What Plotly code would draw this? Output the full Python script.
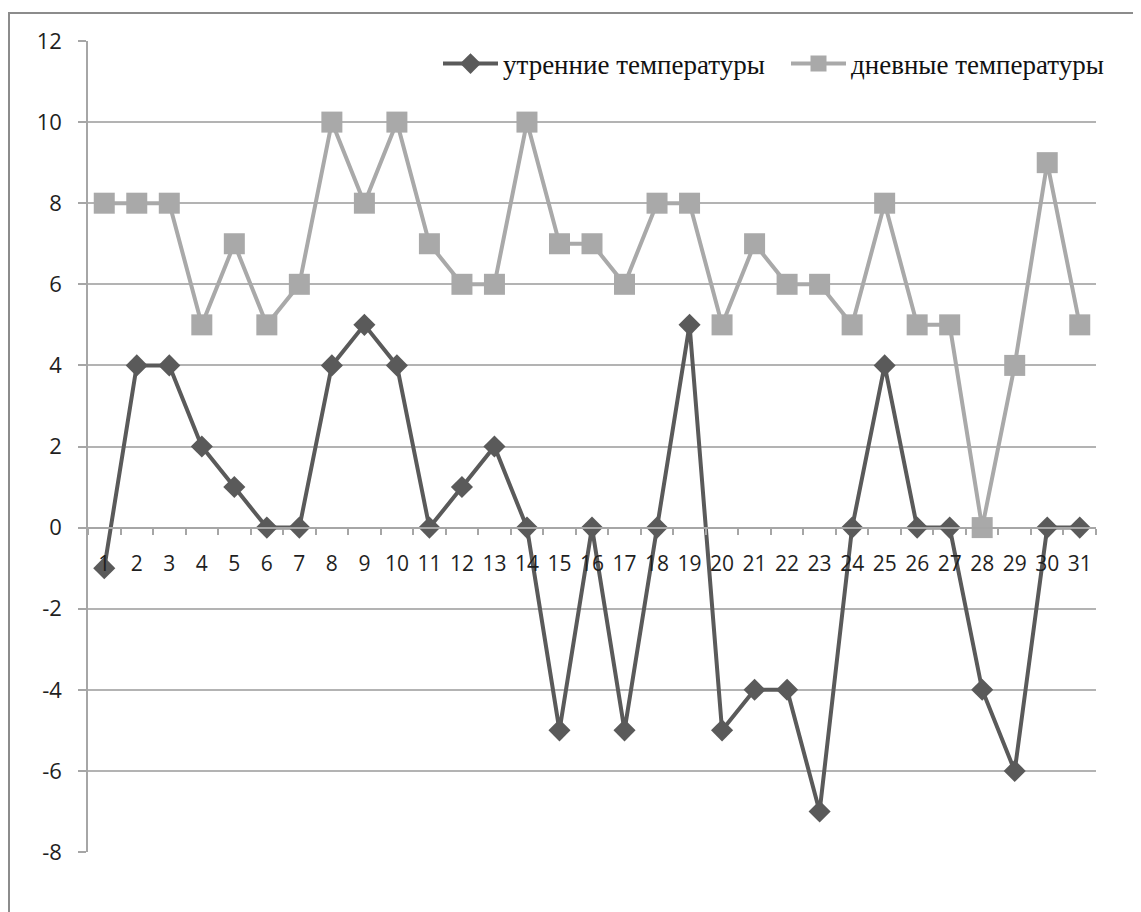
import plotly.graph_objects as go

days = [str(i) for i in range(1, 32)]
morning = [-1, 4, 4, 2, 1, 0, 0, 4, 5, 4, 0, 1, 2, 0, -5, 0, -5, 0, 5, -5, -4, -4, -7, 0, 4, 0, 0, -4, -6, 0, 0]
daytime = [8, 8, 8, 5, 7, 5, 6, 10, 8, 10, 7, 6, 6, 10, 7, 7, 6, 8, 8, 5, 7, 6, 6, 5, 8, 5, 5, 0, 4, 9, 5]
name_morning = "утренние температуры"
name_day = "дневные температуры"
y_ticks = list(range(-8, 13, 2))

W, H = 1141, 912
ml, mr, mt, mb = 80, 53, 33, 68
pw = W - ml - mr
ph = H - mt - mb
ymin, ymax = -8, 12

fig = go.Figure()
fig.add_trace(go.Scatter(
    x=days, y=morning, name=name_morning, mode="lines+markers",
    line=dict(color="#5a5a5a", width=4),
    marker=dict(symbol="diamond", size=17, color="#5a5a5a"),
))
fig.add_trace(go.Scatter(
    x=days, y=daytime, name=name_day, mode="lines+markers",
    line=dict(color="#a9a9a9", width=4),
    marker=dict(symbol="square", size=21, color="#a9a9a9"),
))

zero_pos = (0 - ymin) / (ymax - ymin)

fig.update_layout(
    width=W, height=H,
    margin=dict(l=ml, r=mr, t=mt, b=mb, autoexpand=False),
    paper_bgcolor="white", plot_bgcolor="white",
    showlegend=True,
    legend=dict(
        orientation="h", x=(430 - ml) / pw, xanchor="left",
        y=(H - mb - 56) / ph, yanchor="middle",
        font=dict(family="Liberation Serif", size=27, color="#111111"),
        bgcolor="rgba(0,0,0,0)",
        traceorder="normal", itemwidth=55, entrywidth=278, entrywidthmode="pixels",
    ),
    xaxis=dict(
        type="category", categoryorder="array", categoryarray=days,
        anchor="free", position=zero_pos,
        showline=True, linecolor="#a6a6a6", linewidth=2,
        ticks="outside", tickson="boundaries", ticklen=6, tickcolor="#a6a6a6", tickwidth=1.5,
        showgrid=False, zeroline=False, tickangle=0,
        tickfont=dict(family="Open Sans", size=21, color="#1f1f1f"),
        ticklabelstandoff=17,
        range=[-0.5, 30.5],
    ),
    yaxis=dict(
        range=[ymin, ymax], tickvals=y_ticks, ticktext=[str(v) for v in y_ticks],
        showline=True, linecolor="#a6a6a6", linewidth=1.5,
        ticks="outside", ticklen=8, tickcolor="#a6a6a6", tickwidth=1.5,
        showgrid=True, gridcolor="#b3b3b3", gridwidth=1.5,
        zeroline=False,
        tickfont=dict(family="Open Sans", size=22, color="#1f1f1f"),
        ticklabelstandoff=12,
    ),
    shapes=[dict(
        type="rect", xref="paper", yref="paper",
        x0=(1 - ml) / pw, x1=(W + 20 - ml) / pw,
        y0=(H - mb - (H + 20)) / ph, y1=(H - mb - 5) / ph,
        line=dict(color="#8c8c8c", width=2), fillcolor="rgba(0,0,0,0)",
        layer="below",
    )],
)

fig.write_html("out.html")
